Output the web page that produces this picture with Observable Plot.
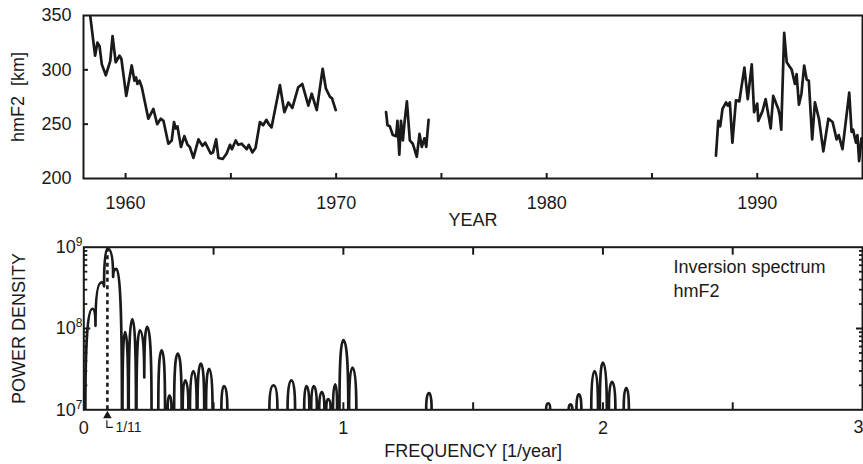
<!DOCTYPE html>
<html><head><meta charset="utf-8">
<script src="https://cdn.jsdelivr.net/npm/d3@7"></script>
<script src="https://cdn.jsdelivr.net/npm/@observablehq/plot@0.6"></script>
<style>
body{margin:0;background:#fff}
#chart{width:863px;height:464px;overflow:hidden;background:#fff}
#chart svg{display:block}
</style>
</head><body><div id="chart"></div>
<script>
// ---------- top panel: hmF2 time series (null = data gap) ----------
const years = [
1958.28,1958.55,1958.66,1958.76,1958.87,1959.06,1959.27,1959.38,1959.53,1959.71,1959.80,
1960.03,1960.29,1960.42,1960.50,1960.56,1960.66,1960.77,1961.08,1961.32,1961.50,1961.67,1961.80,
1962.03,1962.19,1962.30,1962.38,1962.46,1962.63,1962.79,1962.94,1963.05,1963.22,1963.46,1963.65,1963.78,
1964.04,1964.15,1964.30,1964.41,1964.61,1964.80,1964.96,1965.05,1965.23,1965.35,1965.51,1965.75,1965.85,
1966.02,1966.17,1966.38,1966.53,1966.69,1966.80,1966.93,1967.33,1967.54,1967.73,1967.92,
1968.20,1968.39,1968.68,1968.84,1969.08,1969.36,1969.51,1969.71,1969.80,1969.98,
1971.0,
1972.37,1972.44,1972.55,1972.69,1972.85,1972.91,1973.00,1973.08,1973.17,1973.25,1973.36,1973.50,
1973.64,1973.83,1973.96,1974.07,1974.19,1974.28,1974.39,
1980.0,
1988.04,1988.15,1988.24,1988.35,1988.52,1988.60,1988.70,1988.82,1988.99,1989.15,1989.39,1989.55,1989.74,1989.85,
1990.00,1990.05,1990.25,1990.40,1990.64,1990.76,1991.00,1991.07,1991.14,1991.28,1991.40,1991.64,1991.79,1991.87,1991.98,
1992.10,1992.23,1992.35,1992.45,1992.61,1992.74,1992.93,1993.14,1993.38,1993.58,1993.77,1993.87,
1994.05,1994.37,1994.48,1994.55,1994.69,1994.76,1994.84,1994.95
];
const hmF2 = [
356,313,325,322,305,295,308,331,307,313,310,
276,304,290,293,287,290,284,255,264,250,255,253,
232,235,252,246,248,229,239,231,229,219,236,230,233,
223,224,236,219,218,223,231,227,235,231,232,227,231,
224,228,252,249,254,250,247,286,261,270,265,
284,287,267,278,263,301,283,275,274,263,
null,
261,249,248,240,239,253,222,253,235,252,271,235,
232,220,241,229,237,229,254,
null,
221,253,248,264,270,267,270,233,272,271,302,273,305,261,
269,253,262,273,246,276,264,258,245,334,307,300,287,296,268,
278,304,291,290,236,270,255,225,255,252,236,240,
227,279,243,245,233,240,216,237
];
const yearTicks = [1960,1965,1970,1975,1980,1985,1990];
const yearLabels = [1960,1970,1980,1990];
const hTicks = [200,250,300,350];

// ---------- bottom panel: inversion spectrum (null = break between lobes) ----------
const specF = [
0.006,0.033,0.045,0.068,0.078,0.092,0.113,0.126,0.147,null,
0.149,0.159,0.171,null,
0.173,0.187,0.201,null,
0.203,0.216,0.233,0.244,0.261,null,
0.287,0.300,0.313,null,
0.323,0.330,0.338,null,
0.348,0.362,0.377,null,
0.381,0.391,0.403,null,
0.409,0.422,0.435,null,
0.438,0.451,0.464,null,
0.471,0.483,0.496,null,
0.530,0.540,0.553,null,
0.715,0.731,0.746,null,
0.785,0.800,0.814,null,
0.849,0.858,0.869,null,
0.876,0.886,0.898,null,
0.907,0.917,0.927,null,
0.934,0.941,0.951,null,
0.960,0.969,0.976,null,
0.985,1.000,1.019,null,
1.022,1.035,1.050,null,
1.319,1.330,1.340,null,
1.781,1.789,1.797,null,
1.868,1.875,1.882,null,
1.898,1.907,1.917,null,
1.955,1.968,1.981,null,
1.988,2.000,2.015,null,
2.023,2.035,2.048,null,
2.080,2.090,2.100
];
const specP = [
1e7,1.75e8,1.08e8,3.7e8,3.3e8,9.6e8,4.3e8,5.4e8,1e7,null,
1e7,9.0e7,1e7,null,
1e7,1.3e8,1e7,null,
1e7,9.5e7,2.5e7,1.05e8,1e7,null,
1e7,5.4e7,1e7,null,
1e7,1.5e7,1e7,null,
1e7,4.9e7,1e7,null,
1e7,2.3e7,1e7,null,
1e7,3.0e7,1e7,null,
1e7,3.7e7,1e7,null,
1e7,3.2e7,1e7,null,
1e7,1.95e7,1e7,null,
1e7,2.0e7,1e7,null,
1e7,2.3e7,1e7,null,
1e7,1.95e7,1e7,null,
1e7,1.95e7,1e7,null,
1e7,1.65e7,1e7,null,
1e7,1.35e7,1e7,null,
1e7,2.05e7,1e7,null,
1e7,7.2e7,1e7,null,
1e7,3.3e7,1e7,null,
1e7,1.6e7,1e7,null,
1e7,1.2e7,1e7,null,
1e7,1.17e7,1e7,null,
1e7,1.55e7,1e7,null,
1e7,3.0e7,1e7,null,
1e7,3.8e7,1e7,null,
1e7,2.2e7,1e7,null,
1e7,1.85e7,1e7
];
const freqLabels = [0,1,2];
const freqLast = [3];
const freqTicks = [0.5,1,1.5,2,2.5];
const powTicks = [1e7,1e8,1e9];
const powExp = ["7","8","9"];
const powMinor = [2e7,3e7,4e7,5e7,6e7,7e7,8e7,9e7,2e8,3e8,4e8,5e8,6e8,7e8,8e8,9e8];
const markF = [1/11];
const markTop = [9.6e8];
const markLabel = ["1/11"];
const panelText = ["Inversion spectrum\nhmF2"];

// ---------- rendering ----------
const INK = "#1a1a1a";
const FONT = "'Liberation Sans', Arial, Helvetica, sans-serif";
const W = 863, H = 232;

// arch-like curve: vertical tangent at the lower end, horizontal at the higher end
function archCurve(context) {
  let px, py, n = 0;
  return {
    areaStart() {}, areaEnd() {},
    lineStart() { n = 0; },
    lineEnd() {},
    point(x, y) {
      x = +x; y = +y;
      if (n === 0) context.moveTo(x, y);
      else if (y < py) context.quadraticCurveTo(px, y, x, y);
      else context.quadraticCurveTo(x, py, x, y);
      px = x; py = y; n++;
    }
  };
}

const topData = years.map((t, i) => ({t, v: hmF2[i]}));
const topMB = 54;
const topPlot = Plot.plot({
  width: W, height: H,
  marginLeft: 83, marginRight: 1, marginTop: 15, marginBottom: topMB,
  style: {fontFamily: FONT, fontSize: "18px", color: INK, background: "#fff"},
  x: {domain: [1958, 1995], label: null},
  y: {domain: [200, 350], label: null},
  marks: [
    Plot.line(topData, {x: "t", y: "v", stroke: INK, strokeWidth: 2.7, strokeLinejoin: "round", clip: true}),
    Plot.axisX(yearLabels, {tickSize: 0, tickPadding: 18, tickFormat: d => String(d), label: null, fill: INK}),
    Plot.axisX(yearTicks, {fill: "none", tickSize: 5, dy: -5, strokeWidth: 2, stroke: INK, label: null}),
    Plot.axisY(hTicks, {tickSize: 0, tickPadding: 12, label: null, fill: INK}),
    Plot.axisY(hTicks.slice(1, 3), {fill: "none", tickSize: 5, dx: 5, strokeWidth: 2, stroke: INK, label: null}),
    Plot.frame({stroke: INK, strokeWidth: 2}),
    Plot.text(["YEAR"], {text: d => d, frameAnchor: "bottom", lineAnchor: "middle", textAnchor: "middle", dy: 42, fill: INK}),
    Plot.text(["hmF2\u00a0 [km]"], {text: d => d, frameAnchor: "left", textAnchor: "middle", lineAnchor: "middle", rotate: -90, dx: -65, fill: INK})
  ]
});

const specData = specF.map((f, i) => ({f, p: specP[i]}));
const botMB = 54.7;
const bottomPlot = Plot.plot({
  width: W, height: H,
  marginLeft: 83.3, marginRight: 1, marginTop: 14.7, marginBottom: botMB,
  style: {fontFamily: FONT, fontSize: "18px", color: INK, background: "#fff"},
  x: {domain: [0, 3], label: null},
  y: {type: "log", domain: [1e7, 1e9], label: null},
  marks: [
    Plot.line(specData, {x: "f", y: "p", curve: archCurve, stroke: INK, strokeWidth: 2.7, strokeLinejoin: "round", clip: true}),
    Plot.ruleX(markF, {x: d => d, y1: 1e7, y2: markTop[0], stroke: INK, strokeWidth: 2.6, strokeDasharray: "4,3.5"}),
    Plot.axisX(freqLabels, {tickSize: 0, tickPadding: 11, tickFormat: d => String(d), label: null, fill: INK}),
    Plot.text(freqLast, {x: d => d, text: d => String(d), frameAnchor: "bottom", textAnchor: "end", lineAnchor: "middle", dx: 1, dy: 17.7, fill: INK}),
    Plot.axisX(freqTicks, {fill: "none", tickSize: 7, dy: -7, strokeWidth: 2, stroke: INK, label: null}),
    Plot.axisX(freqTicks, {anchor: "top", fill: "none", tickSize: 7, dy: 7, strokeWidth: 2, stroke: INK, label: null}),
    Plot.axisY([1e8], {fill: "none", tickSize: 7, dx: 7, strokeWidth: 2, stroke: INK, label: null}),
    Plot.axisY(powMinor, {fill: "none", tickSize: 4, dx: 4, strokeWidth: 1.8, stroke: INK, label: null}),
    Plot.axisY([1e8], {anchor: "right", fill: "none", tickSize: 7, dx: -7, strokeWidth: 2, stroke: INK, label: null}),
    Plot.axisY(powMinor, {anchor: "right", fill: "none", tickSize: 4, dx: -4, strokeWidth: 1.8, stroke: INK, label: null}),
    Plot.frame({stroke: INK, strokeWidth: 2}),
    Plot.text(powTicks, {y: d => d, text: () => "10", frameAnchor: "left", textAnchor: "end", lineAnchor: "middle", dx: -8, fill: INK}),
    Plot.text(powTicks, {y: d => d, text: (d, i) => powExp[i], frameAnchor: "left", textAnchor: "start", lineAnchor: "middle", dx: -8, dy: -5, fontSize: 12, fill: INK}),
    Plot.dot(markF, {x: d => d, frameAnchor: "bottom", symbol: "triangle", r: 3.2, fill: INK, stroke: null, dy: 6}),
    Plot.text(markLabel, {x: markF, text: d => d, frameAnchor: "bottom", textAnchor: "start", lineAnchor: "middle", dx: 8, dy: 18, fontSize: 14, fill: INK}),
    Plot.text(panelText, {text: d => d, frameAnchor: "top-right", textAnchor: "start", lineAnchor: "top", dx: -189, dy: 9, lineHeight: 1.33, fill: INK}),
    Plot.text(["FREQUENCY [1/year]"], {text: d => d, frameAnchor: "bottom", textAnchor: "middle", lineAnchor: "middle", dy: 41.7, fill: INK}),
    Plot.text(["POWER DENSITY"], {text: d => d, frameAnchor: "left", textAnchor: "middle", lineAnchor: "middle", rotate: -90, dx: -65, fill: INK})
  ]
});

// small "└" leader from the 1/11 marker to its label, placed through the x scale
{
  const fx = bottomPlot.scale("x").apply(markF[0]);
  const yb = H - botMB;
  d3.select(bottomPlot).append("path")
    .attr("d", `M${fx},${yb + 11}V${yb + 18}H${fx + 6}`)
    .attr("fill", "none").attr("stroke", INK).attr("stroke-width", 1.2);
}

const root = document.getElementById("chart");
root.appendChild(topPlot);
root.appendChild(bottomPlot);
</script></body></html>
